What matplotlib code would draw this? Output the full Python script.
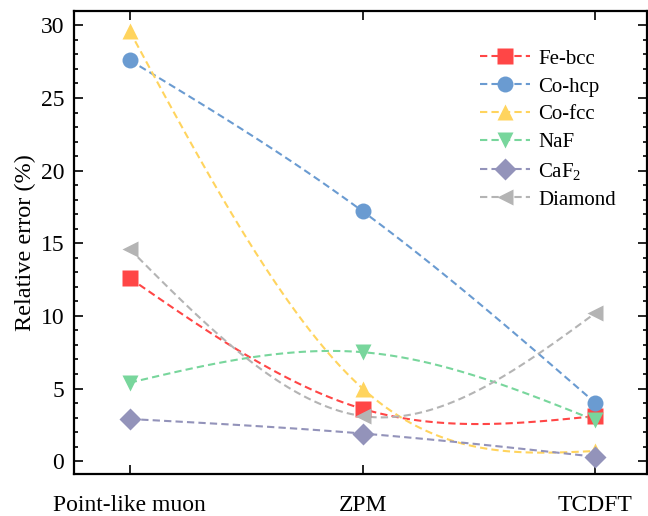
import numpy as np
import matplotlib.pyplot as plt
from matplotlib.ticker import MultipleLocator

# data
methods = ["Point-like muon", "ZPM", "TCDFT"]
fe_bcc = [12.6, 3.6, 3.1]
co_hcp = [27.6, 17.2, 4.0]
co_fcc = [29.6, 5.0, 0.7]
naf = [5.4, 7.5, 2.8]
caf2 = [2.9, 1.9, 0.3]
diamond = [14.6, 3.1, 10.2]

series = [
    ("Fe-bcc", fe_bcc, "#FF4646", "s"),
    ("Co-hcp", co_hcp, "#6A9BD1", "o"),
    ("Co-fcc", co_fcc, "#FFD45E", "^"),
    ("NaF", naf, "#78D69C", "v"),
    ("CaF$_2$", caf2, "#9393BA", "D"),
    ("Diamond", diamond, "#B4B4B4", "<"),
]

plt.rcParams["font.family"] = ["Liberation Serif", "DejaVu Serif"]
plt.rcParams["mathtext.default"] = "regular"


def natural_spline(y, n=60):
    # natural cubic spline through equally spaced points (x = 0, 1, 2, ...)
    y = np.asarray(y, dtype=float)
    k = len(y)
    A = np.zeros((k, k))
    b = np.zeros(k)
    A[0, 0] = A[-1, -1] = 1
    for i in range(1, k - 1):
        A[i, i - 1], A[i, i], A[i, i + 1] = 1, 4, 1
        b[i] = 6 * (y[i - 1] - 2 * y[i] + y[i + 1])
    M = np.linalg.solve(A, b)
    xs, ys = [], []
    for i in range(k - 1):
        t = np.linspace(0, 1, n)
        s = (M[i] * (1 - t) ** 3 / 6 + M[i + 1] * t ** 3 / 6
             + (y[i] - M[i] / 6) * (1 - t) + (y[i + 1] - M[i + 1] / 6) * t)
        xs.append(i + t)
        ys.append(s)
    return np.concatenate(xs), np.concatenate(ys)


fig = plt.figure(figsize=(6.48, 5.16), dpi=100)
ax = fig.add_axes([0.114, 0.081, 0.884, 0.898])

x = np.arange(len(methods))
dash = (0, (3.5, 2))
for name, vals, color, marker in series:
    xs, ys = natural_spline(vals)
    ax.plot(xs, ys, color=color, lw=1.5, linestyle=dash, zorder=2)
    ax.plot(x, vals, linestyle="none", marker=marker, ms=11.5,
            color=color, mec="none", zorder=3)
    # legend proxy
    ax.plot([], [], color=color, lw=1.5, linestyle=dash, marker=marker,
            ms=11.5, mec="none", label=name)

ax.set_xlim(-0.24, 2.22)
ax.set_ylim(-0.9, 31.0)
ax.set_xticks(x)
ax.set_xticklabels(methods)
ax.yaxis.set_major_locator(MultipleLocator(5))
ax.yaxis.set_minor_locator(MultipleLocator(1))
ax.set_ylabel("Relative error (%)", fontsize=17.5, labelpad=3)

ax.tick_params(which="both", direction="in", top=True, right=True,
               labelsize=17, width=1.2)
ax.tick_params(which="major", length=6.5)
ax.tick_params(which="minor", length=3.2)
ax.tick_params(axis="x", pad=15)
ax.tick_params(axis="y", pad=7)
for sp in ax.spines.values():
    sp.set_linewidth(1.6)

ax.legend(loc="upper left", bbox_to_anchor=(0.69, 0.94), frameon=False,
          fontsize=15, handlelength=2.4, handletextpad=0.4,
          labelspacing=0.4, borderpad=0)

fig.savefig("out.png", dpi=100)
